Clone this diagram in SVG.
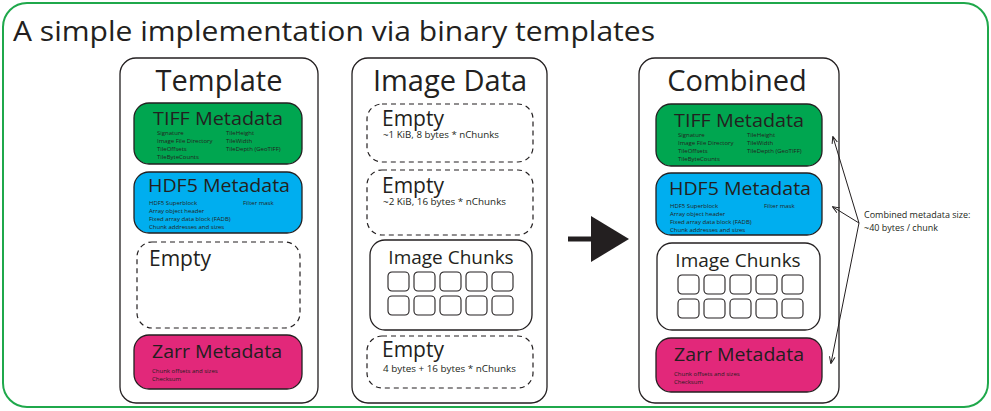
<svg xmlns="http://www.w3.org/2000/svg" width="991" height="411" viewBox="0 0 991 411">
<style>
text{font-family:"Open Sans","Noto Sans","Liberation Sans",sans-serif;fill:#231f20}
.panel{fill:#fff;stroke:#231f20;stroke-width:1.3}
.box{stroke:#231f20;stroke-width:1.3}
.dash{fill:none;stroke:#231f20;stroke-width:1.2;stroke-dasharray:5 4}
.ptitle{font-size:29px;text-anchor:middle}
.btitle{font-size:19px}
.etitle{font-size:21px}
.item{font-size:6px}
.sub{font-size:9px}
.chunk{fill:#fff;stroke:#231f20;stroke-width:1.1}
.conn{fill:none;stroke:#231f20;stroke-width:1}
</style>
<defs>
<marker id="ah" viewBox="0 0 10 10" refX="9" refY="5" markerWidth="7" markerHeight="7" orient="auto-start-reverse" markerUnits="userSpaceOnUse">
<path d="M0,1 L10,5 L0,9" fill="none" stroke="#231f20" stroke-width="1.4"/>
</marker>
<g id="grid">
<rect class="chunk" x="0" y="0" width="21" height="19" rx="4"/>
<rect class="chunk" x="26" y="0" width="21" height="19" rx="4"/>
<rect class="chunk" x="52" y="0" width="21" height="19" rx="4"/>
<rect class="chunk" x="78" y="0" width="21" height="19" rx="4"/>
<rect class="chunk" x="104" y="0" width="21" height="19" rx="4"/>
<rect class="chunk" x="0" y="24" width="21" height="19" rx="4"/>
<rect class="chunk" x="26" y="24" width="21" height="19" rx="4"/>
<rect class="chunk" x="52" y="24" width="21" height="19" rx="4"/>
<rect class="chunk" x="78" y="24" width="21" height="19" rx="4"/>
<rect class="chunk" x="104" y="24" width="21" height="19" rx="4"/>
</g>
</defs>
<rect width="991" height="411" fill="#fff"/>
<g id="frame">
<rect x="3" y="3" width="985" height="404" rx="24" fill="none" stroke="#1fa84b" stroke-width="2"/>
<text x="13" y="41" font-size="28" textLength="642" lengthAdjust="spacingAndGlyphs">A simple implementation via binary templates</text>
</g>

<g id="template">
<rect class="panel" x="120" y="58" width="198" height="345" rx="16"/>
<text class="ptitle" x="219" y="91">Template</text>
</g>
<g id="template-tiff">
<rect class="box" x="134" y="103" width="168" height="61" rx="15" fill="#00a650"/>
<text class="btitle" x="153" y="125" textLength="130" lengthAdjust="spacingAndGlyphs">TIFF Metadata</text>
<text class="item" x="157" y="135">Signature</text>
<text class="item" x="157" y="143">Image File Directory</text>
<text class="item" x="157" y="151">TileOffsets</text>
<text class="item" x="157" y="159">TileByteCounts</text>
<text class="item" x="226" y="135">TileHeight</text>
<text class="item" x="226" y="143">TileWidth</text>
<text class="item" x="226" y="151">TileDepth (GeoTIFF)</text>
</g>
<g id="template-hdf5">
<rect class="box" x="134" y="172" width="168" height="61" rx="15" fill="#00aeef"/>
<text class="btitle" x="148" y="192" textLength="142" lengthAdjust="spacingAndGlyphs">HDF5 Metadata</text>
<text class="item" x="149" y="205">HDF5 Superblock</text>
<text class="item" x="149" y="213">Array object header</text>
<text class="item" x="149" y="221">Fixed array data block (FADB)</text>
<text class="item" x="149" y="229">Chunk addresses and sizes</text>
<text class="item" x="243" y="205">Filter mask</text>
</g>
<g id="template-empty">
<rect class="dash" x="137" y="242" width="163" height="86" rx="15"/>
<text class="etitle" x="149" y="266">Empty</text>
</g>
<g id="template-zarr">
<rect class="box" x="134" y="335" width="168" height="54" rx="15" fill="#e2287a"/>
<text class="btitle" x="152" y="358" textLength="130" lengthAdjust="spacingAndGlyphs">Zarr Metadata</text>
<text class="item" x="152" y="373">Chunk offsets and sizes</text>
<text class="item" x="152" y="381">Checksum</text>
</g>

<g id="image-data">
<rect class="panel" x="352" y="58" width="195" height="345" rx="16"/>
<text class="ptitle" x="450" y="91">Image Data</text>
</g>
<g id="empty-1">
<rect class="dash" x="367" y="104" width="166" height="58" rx="15"/>
<text class="etitle" x="382" y="126">Empty</text>
<text class="sub" x="383" y="138" textLength="116" lengthAdjust="spacingAndGlyphs">~1 KiB, 8 bytes * nChunks</text>
</g>
<g id="empty-2">
<rect class="dash" x="367" y="170" width="166" height="65" rx="15"/>
<text class="etitle" x="382" y="193">Empty</text>
<text class="sub" x="383" y="205" textLength="123" lengthAdjust="spacingAndGlyphs">~2 KiB, 16 bytes * nChunks</text>
</g>
<g id="image-chunks">
<rect class="box" x="370" y="240" width="162" height="90" rx="15" fill="#fff"/>
<text class="btitle" x="451" y="264" text-anchor="middle">Image Chunks</text>
<use href="#grid" x="388" y="272"/>
</g>
<g id="empty-3">
<rect class="dash" x="367" y="336" width="166" height="52" rx="15"/>
<text class="etitle" x="382" y="357">Empty</text>
<text class="sub" x="383" y="372" textLength="133" lengthAdjust="spacingAndGlyphs">4 bytes + 16 bytes * nChunks</text>
</g>

<g id="combined">
<rect class="panel" x="639" y="58" width="200" height="345" rx="16"/>
<text class="ptitle" x="737" y="91">Combined</text>
</g>
<g id="combined-tiff">
<rect class="box" x="656" y="104" width="166" height="62" rx="15" fill="#00a650"/>
<text class="btitle" x="674" y="127" textLength="130" lengthAdjust="spacingAndGlyphs">TIFF Metadata</text>
<text class="item" x="678" y="137">Signature</text>
<text class="item" x="678" y="145">Image File Directory</text>
<text class="item" x="678" y="153">TileOffsets</text>
<text class="item" x="678" y="161">TileByteCounts</text>
<text class="item" x="747" y="137">TileHeight</text>
<text class="item" x="747" y="145">TileWidth</text>
<text class="item" x="747" y="153">TileDepth (GeoTIFF)</text>
</g>
<g id="combined-hdf5">
<rect class="box" x="656" y="173" width="166" height="62" rx="15" fill="#00aeef"/>
<text class="btitle" x="669" y="195" textLength="142" lengthAdjust="spacingAndGlyphs">HDF5 Metadata</text>
<text class="item" x="670" y="208">HDF5 Superblock</text>
<text class="item" x="670" y="216">Array object header</text>
<text class="item" x="670" y="224">Fixed array data block (FADB)</text>
<text class="item" x="670" y="232">Chunk addresses and sizes</text>
<text class="item" x="764" y="208">Filter mask</text>
</g>
<g id="combined-chunks">
<rect class="box" x="657" y="243" width="163" height="87" rx="15" fill="#fff"/>
<text class="btitle" x="738" y="267" text-anchor="middle">Image Chunks</text>
<use href="#grid" x="678" y="275"/>
</g>
<g id="combined-zarr">
<rect class="box" x="656" y="338" width="166" height="54" rx="15" fill="#e2287a"/>
<text class="btitle" x="674" y="361" textLength="130" lengthAdjust="spacingAndGlyphs">Zarr Metadata</text>
<text class="item" x="674" y="376">Chunk offsets and sizes</text>
<text class="item" x="674" y="384">Checksum</text>
</g>

<g id="note">
<text x="864" y="218" font-size="9">Combined metadata size:</text>
<text x="864" y="231" font-size="9">~40 bytes / chunk</text>
</g>

<g id="connectors">
<line x1="568" y1="239" x2="596" y2="239" stroke="#231f20" stroke-width="5"/>
<polygon points="591,216 629,239 591,262" fill="#231f20"/>
<line class="conn" x1="859" y1="223" x2="833" y2="137" marker-end="url(#ah)"/>
<line class="conn" x1="859" y1="223" x2="833" y2="207" marker-end="url(#ah)"/>
<line class="conn" x1="859" y1="223" x2="831" y2="363" marker-end="url(#ah)"/>
</g>
</svg>
